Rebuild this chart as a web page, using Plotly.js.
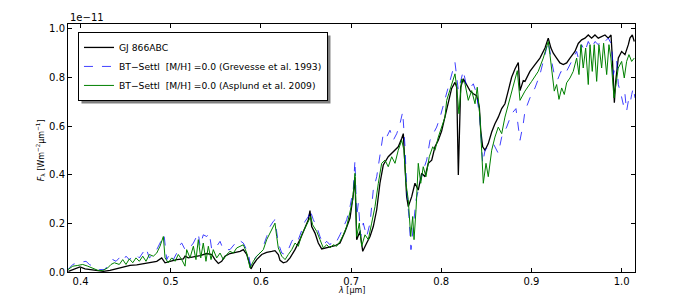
<!DOCTYPE html>
<html>
<head>
<meta charset="utf-8">
<script src="https://cdn.plot.ly/plotly-3.0.1.min.js"></script>
<style>html,body{margin:0;padding:0;background:#fff;}#chart{width:690px;height:297px;}</style>
</head>
<body>
<div id="chart"></div>
<script>
// Wavelength in µm, flux in units of 1e-11 W m^-2 µm^-1
var obsWave = [0.3865,0.3939,0.3994,0.4050,0.4105,0.4180,0.4253,0.4327,0.4401,0.4474,0.4549,0.4623,0.4696,0.4771,0.4845,0.4900,0.4937,0.4992,0.5067,0.5140,0.5159,0.5195,0.5251,0.5325,0.5399,0.5455,0.5491,0.5528,0.5565,0.5602,0.5657,0.5713,0.5769,0.5805,0.5843,0.5871,0.5890,0.5916,0.5953,0.6009,0.6064,0.6120,0.6156,0.6193,0.6212,0.6248,0.6286,0.6323,0.6378,0.6433,0.6489,0.6526,0.6544,0.6563,0.6600,0.6636,0.6674,0.6711,0.6766,0.6822,0.6877,0.6933,0.6988,0.7024,0.7043,0.7062,0.7098,0.7129,0.7173,0.7210,0.7246,0.7284,0.7320,0.7357,0.7412,0.7468,0.7523,0.7561,0.7579,0.7598,0.7616,0.7634,0.7672,0.7708,0.7745,0.7783,0.7820,0.7856,0.7894,0.7930,0.7967,0.8004,0.8041,0.8078,0.8115,0.8152,0.8171,0.8189,0.8215,0.8244,0.8282,0.8319,0.8355,0.8392,0.8422,0.8437,0.8459,0.8485,0.8521,0.8559,0.8595,0.8632,0.8670,0.8706,0.8743,0.8780,0.8817,0.8854,0.8873,0.8909,0.8928,0.8983,0.9039,0.9094,0.9150,0.9186,0.9216,0.9242,0.9279,0.9316,0.9353,0.9390,0.9427,0.9482,0.9519,0.9556,0.9593,0.9630,0.9667,0.9704,0.9741,0.9778,0.9815,0.9852,0.9882,0.9897,0.9908,0.9919,0.9934,0.9963,1.0000,1.0037,1.0074,1.0092,1.0118,1.0140];
var obsFlux = [0.003,0.013,0.021,0.013,0.010,0.007,0.003,0.007,0.013,0.021,0.027,0.029,0.034,0.038,0.044,0.058,0.038,0.044,0.051,0.054,0.065,0.058,0.062,0.067,0.076,0.072,0.051,0.035,0.044,0.065,0.076,0.081,0.085,0.092,0.072,0.038,0.013,0.031,0.051,0.072,0.081,0.085,0.088,0.072,0.048,0.038,0.042,0.058,0.092,0.133,0.181,0.215,0.253,0.187,0.160,0.119,0.095,0.099,0.103,0.108,0.119,0.167,0.222,0.317,0.390,0.133,0.167,0.085,0.119,0.146,0.187,0.256,0.365,0.440,0.474,0.494,0.515,0.549,0.569,0.433,0.310,0.269,0.310,0.365,0.337,0.406,0.392,0.447,0.460,0.515,0.542,0.580,0.640,0.706,0.755,0.780,0.760,0.399,0.760,0.795,0.770,0.745,0.733,0.725,0.678,0.583,0.515,0.501,0.528,0.576,0.610,0.637,0.672,0.692,0.746,0.801,0.835,0.862,0.746,0.787,0.784,0.825,0.853,0.880,0.921,0.962,0.921,0.900,0.880,0.860,0.853,0.860,0.880,0.907,0.940,0.955,0.962,0.975,0.962,0.975,0.962,0.969,0.975,0.962,0.975,0.880,0.744,0.696,0.784,0.880,0.907,0.894,0.935,0.962,0.975,0.948];

var grevWave = [0.3861,0.3914,0.3969,0.4024,0.4061,0.4098,0.4153,0.4208,0.4264,0.4319,0.4357,0.4394,0.4430,0.4468,0.4504,0.4541,0.4579,0.4615,0.4652,0.4690,0.4726,0.4763,0.4826,0.4881,0.4926,0.4956,0.4992,0.5029,0.5067,0.5103,0.5122,0.5159,0.5195,0.5251,0.5306,0.5325,0.5361,0.5399,0.5428,0.5455,0.5510,0.5547,0.5583,0.5657,0.5713,0.5749,0.5805,0.5860,0.5886,0.5934,0.5990,0.6027,0.6064,0.6101,0.6137,0.6156,0.6193,0.6231,0.6268,0.6304,0.6342,0.6378,0.6415,0.6452,0.6489,0.6526,0.6544,0.6581,0.6619,0.6655,0.6692,0.6730,0.6766,0.6803,0.6840,0.6877,0.6914,0.6951,0.6988,0.7024,0.7043,0.7062,0.7080,0.7107,0.7135,0.7173,0.7210,0.7246,0.7284,0.7320,0.7357,0.7394,0.7431,0.7468,0.7506,0.7542,0.7572,0.7598,0.7616,0.7641,0.7664,0.7690,0.7720,0.7764,0.7800,0.7838,0.7875,0.7911,0.7949,0.7987,0.8041,0.8097,0.8152,0.8189,0.8244,0.8282,0.8319,0.8355,0.8392,0.8429,0.8459,0.8485,0.8521,0.8577,0.8632,0.8670,0.8725,0.8780,0.8828,0.8873,0.8909,0.8928,0.8983,0.9039,0.9094,0.9150,0.9186,0.9224,0.9253,0.9290,0.9327,0.9371,0.9408,0.9452,0.9501,0.9519,0.9556,0.9593,0.9630,0.9667,0.9704,0.9741,0.9778,0.9815,0.9852,0.9889,0.9908,0.9945,0.9963,0.9993,1.0018,1.0037,1.0055,1.0074,1.0092,1.0111,1.0129,1.0148];
var grevFlux = [0.010,0.031,0.038,0.040,0.044,0.031,0.021,0.010,0.010,0.031,0.051,0.044,0.058,0.044,0.065,0.051,0.065,0.072,0.058,0.078,0.099,0.058,0.078,0.119,0.153,0.051,0.078,0.051,0.078,0.112,0.119,0.092,0.092,0.119,0.160,0.106,0.153,0.146,0.160,0.092,0.106,0.126,0.092,0.092,0.119,0.133,0.119,0.078,0.024,0.058,0.078,0.106,0.146,0.187,0.208,0.215,0.119,0.078,0.072,0.092,0.126,0.146,0.133,0.174,0.208,0.228,0.256,0.215,0.187,0.146,0.112,0.126,0.112,0.133,0.126,0.153,0.187,0.215,0.269,0.337,0.460,0.228,0.283,0.146,0.201,0.146,0.201,0.337,0.392,0.474,0.569,0.555,0.583,0.542,0.569,0.610,0.658,0.515,0.337,0.228,0.092,0.187,0.297,0.365,0.419,0.460,0.542,0.569,0.596,0.637,0.706,0.787,0.862,0.746,0.828,0.760,0.757,0.774,0.733,0.624,0.447,0.501,0.515,0.528,0.488,0.555,0.596,0.651,0.672,0.542,0.610,0.662,0.716,0.757,0.812,0.894,0.948,0.866,0.812,0.791,0.825,0.812,0.839,0.866,0.907,0.880,0.935,0.907,0.948,0.921,0.948,0.935,0.955,0.948,0.962,0.935,0.812,0.866,0.771,0.730,0.689,0.730,0.662,0.703,0.689,0.730,0.757,0.716];

var asplWave = [0.3861,0.3914,0.3969,0.4024,0.4080,0.4135,0.4191,0.4246,0.4302,0.4338,0.4375,0.4430,0.4468,0.4504,0.4541,0.4579,0.4615,0.4652,0.4690,0.4726,0.4763,0.4807,0.4845,0.4881,0.4918,0.4937,0.4973,0.5011,0.5048,0.5084,0.5122,0.5159,0.5177,0.5214,0.5251,0.5280,0.5306,0.5333,0.5361,0.5391,0.5417,0.5447,0.5472,0.5510,0.5547,0.5583,0.5621,0.5657,0.5694,0.5732,0.5768,0.5805,0.5843,0.5879,0.5916,0.5953,0.5990,0.6027,0.6064,0.6101,0.6137,0.6156,0.6175,0.6193,0.6231,0.6268,0.6304,0.6342,0.6378,0.6415,0.6452,0.6489,0.6526,0.6552,0.6574,0.6619,0.6655,0.6692,0.6730,0.6766,0.6803,0.6840,0.6877,0.6914,0.6951,0.6988,0.7018,0.7043,0.7062,0.7091,0.7117,0.7154,0.7191,0.7228,0.7265,0.7302,0.7339,0.7376,0.7412,0.7450,0.7487,0.7523,0.7561,0.7586,0.7608,0.7634,0.7661,0.7683,0.7698,0.7720,0.7745,0.7772,0.7800,0.7830,0.7867,0.7905,0.7930,0.7967,0.8004,0.8041,0.8060,0.8115,0.8152,0.8171,0.8196,0.8226,0.8263,0.8299,0.8337,0.8374,0.8399,0.8429,0.8455,0.8466,0.8496,0.8521,0.8559,0.8595,0.8632,0.8670,0.8706,0.8743,0.8780,0.8817,0.8843,0.8873,0.8928,0.9002,0.9075,0.9131,0.9186,0.9205,0.9231,0.9253,0.9279,0.9305,0.9335,0.9364,0.9390,0.9427,0.9463,0.9501,0.9527,0.9549,0.9574,0.9601,0.9630,0.9649,0.9674,0.9696,0.9723,0.9748,0.9778,0.9800,0.9834,0.9859,0.9881,0.9900,0.9915,0.9937,0.9962,1.0000,1.0029,1.0055,1.0081,1.0111,1.0140];
var asplFlux = [0.010,0.024,0.027,0.031,0.024,0.017,0.007,0.006,0.017,0.031,0.038,0.031,0.051,0.031,0.054,0.038,0.058,0.044,0.065,0.044,0.072,0.065,0.078,0.106,0.146,0.058,0.038,0.058,0.044,0.072,0.051,0.024,0.092,0.058,0.106,0.051,0.133,0.058,0.119,0.044,0.106,0.051,0.092,0.058,0.078,0.051,0.072,0.085,0.078,0.099,0.106,0.112,0.078,0.017,0.044,0.065,0.078,0.092,0.133,0.160,0.187,0.201,0.146,0.099,0.065,0.051,0.072,0.092,0.119,0.106,0.153,0.181,0.215,0.228,0.194,0.167,0.133,0.099,0.112,0.099,0.112,0.106,0.126,0.153,0.187,0.242,0.297,0.406,0.146,0.201,0.106,0.153,0.133,0.201,0.269,0.365,0.447,0.460,0.433,0.474,0.447,0.501,0.542,0.501,0.365,0.297,0.146,0.228,0.133,0.256,0.447,0.365,0.433,0.392,0.474,0.515,0.501,0.555,0.596,0.637,0.706,0.774,0.815,0.760,0.651,0.794,0.774,0.706,0.746,0.692,0.760,0.637,0.474,0.365,0.447,0.392,0.501,0.555,0.596,0.569,0.637,0.692,0.746,0.801,0.828,0.706,0.744,0.784,0.825,0.880,0.948,0.894,0.812,0.744,0.771,0.710,0.757,0.730,0.778,0.798,0.825,0.880,0.812,0.935,0.839,0.921,0.771,0.935,0.825,0.935,0.784,0.935,0.839,0.941,0.812,0.935,0.880,0.771,0.716,0.771,0.839,0.866,0.798,0.866,0.894,0.866,0.880];

var seriesNames = ['GJ 866ABC', 'BT\u2212Settl  [M/H] =0.0 (Grevesse et al. 1993)', 'BT\u2212Settl  [M/H] =0.0 (Asplund et al. 2009)'];
var xTicks = [0.4, 0.5, 0.6, 0.7, 0.8, 0.9, 1.0];
var yTicks = [0.0, 0.2, 0.4, 0.6, 0.8, 1.0];

var font = 'DejaVu Sans, Liberation Sans, sans-serif';
var M = {l: 68, r: 55, t: 24, b: 25};
var W = 690, H = 297;
var plotW = W - M.l - M.r, plotH = H - M.t - M.b;

var traces = [
  {x: obsWave, y: obsFlux, name: seriesNames[0], mode: 'lines', type: 'scatter',
   line: {color: '#000000', width: 1.3}},
  {x: grevWave, y: grevFlux, name: seriesNames[1], mode: 'lines', type: 'scatter',
   line: {color: 'rgba(0,0,255,0.75)', width: 1, dash: 'dash'}},
  {x: asplWave, y: asplFlux, name: seriesNames[2], mode: 'lines', type: 'scatter',
   line: {color: '#008000', width: 1}}
];

var layout = {
  width: W, height: H,
  margin: {l: M.l, r: M.r, t: M.t, b: M.b, pad: 0},
  paper_bgcolor: '#ffffff', plot_bgcolor: '#ffffff',
  font: {family: font, size: 10, color: '#000'},
  showlegend: true,
  legend: {x: 0.0176, y: 0.968, xanchor: 'left', yanchor: 'top',
           bgcolor: '#ffffff', bordercolor: '#000000', borderwidth: 1,
           font: {family: font, size: 9.2, color: '#000'},
           tracegroupgap: 0, itemwidth: 30},
  xaxis: {range: [0.3861, 1.0148], tickvals: xTicks, tickformat: '.1f',
          ticks: 'inside', ticklen: 4, tickcolor: '#000', mirror: 'allticks',
          showline: true, linecolor: '#000', linewidth: 1,
          showgrid: false, zeroline: false, automargin: false,
          tickfont: {family: font, size: 10, color: '#000'}},
  yaxis: {range: [0, 1.02], tickvals: yTicks, tickformat: '.1f',
          ticks: 'inside', ticklen: 4, tickcolor: '#000', mirror: 'allticks',
          showline: true, linecolor: '#000', linewidth: 1,
          showgrid: false, zeroline: false, automargin: false,
          tickfont: {family: font, size: 10, color: '#000'}},
  annotations: [
    {text: '1e\u221211', xref: 'paper', yref: 'paper', x: 0, y: 1.028,
     xanchor: 'left', yanchor: 'middle', showarrow: false,
     font: {family: font, size: 10, color: '#000'}},
    {text: '<i>F</i><sub>\u03bb</sub> [Wm<sup>\u22122</sup>\u00b5m<sup>\u22121</sup>]',
     xref: 'paper', yref: 'paper', x: -0.048, y: 0.49, textangle: -90,
     xanchor: 'center', yanchor: 'middle', showarrow: false,
     font: {family: font, size: 8, color: '#000'}},
    {text: '<i>\u03bb</i> [\u00b5m]', xref: 'paper', yref: 'paper', x: 0.5, y: -0.1,
     xanchor: 'center', yanchor: 'bottom', showarrow: false,
     font: {family: font, size: 8, color: '#000'}}
  ],
  shapes: []
};

var gd = document.getElementById('chart');
Plotly.newPlot(gd, traces, layout, {staticPlot: true, displayModeBar: false}).then(function () {
  // drop shadow behind the legend box, offset a few pixels right and down
  var bg = gd.querySelector('.legend .bg');
  if (!bg) return;
  var r = bg.getBoundingClientRect();
  var c = gd.getBoundingClientRect();
  var off = 3;
  var x0 = (r.left - c.left + off - M.l) / plotW;
  var x1 = (r.right - c.left + off - M.l) / plotW;
  var y1 = 1 - (r.top - c.top + off - M.t) / plotH;
  var y0 = 1 - (r.bottom - c.top + off - M.t) / plotH;
  return Plotly.relayout(gd, {shapes: [{type: 'rect', xref: 'paper', yref: 'paper', layer: 'above',
    x0: x0, x1: x1, y0: y0, y1: y1, fillcolor: 'rgba(0,0,0,0.5)', line: {width: 0}}]});
});
</script>
</body>
</html>
